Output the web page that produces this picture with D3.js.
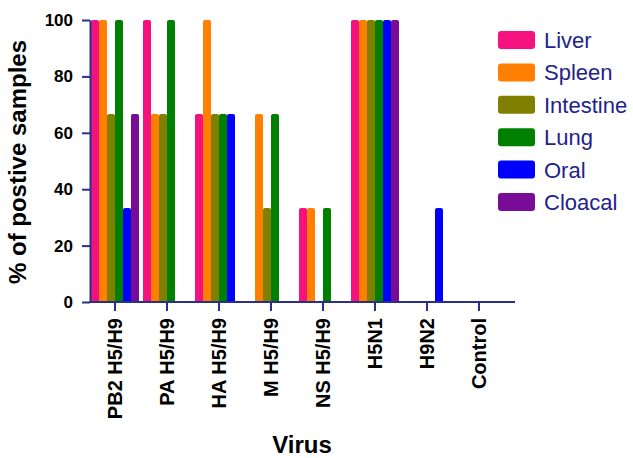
<!DOCTYPE html>
<html><head><meta charset="utf-8">
<script src="https://cdn.jsdelivr.net/npm/d3@7/dist/d3.min.js"></script>
<style>body{margin:0;background:#fff}svg{display:block}</style>
</head><body>
<svg id="c" width="633" height="458"></svg>
<script>
const categories = ["PB2 H5/H9","PA H5/H9","HA H5/H9","M H5/H9","NS H5/H9","H5N1","H9N2","Control"];
const seriesNames = ["Liver","Spleen","Intestine","Lung","Oral","Cloacal"];
const liver     = [100, 100, 66.7, 0, 33.3, 100, 0, 0];
const spleen    = [100, 66.7, 100, 66.7, 33.3, 100, 0, 0];
const intestine = [66.7, 66.7, 66.7, 33.3, 0, 100, 0, 0];
const lung      = [100, 100, 66.7, 66.7, 33.3, 100, 0, 0];
const oral      = [33.3, 0, 66.7, 0, 0, 100, 33.3, 0];
const cloacal   = [66.7, 0, 0, 0, 0, 100, 0, 0];
const yTicks = [0, 20, 40, 60, 80, 100];
const colors = ["#f5127f","#ff8000","#808000","#008000","#0000ff","#780c96"];

const seriesValues = [liver, spleen, intestine, lung, oral, cloacal];
const axisColor = "#2b2f8c";
const font = "'Liberation Sans', Arial, sans-serif";

const svg = d3.select("#c");
const x0 = d3.scaleBand().domain(categories).range([89, 505]).paddingInner(0.077).paddingOuter(0.0385);
const x1 = d3.scaleBand().domain(seriesNames).range([0, x0.bandwidth()]);
const y = d3.scaleLinear().domain([0, 100]).range([302, 20]);
const color = d3.scaleOrdinal().domain(seriesNames).range(colors);

// bars
const data = [];
categories.forEach((c, i) => seriesNames.forEach((s, j) => data.push({c, s, v: seriesValues[j][i]})));
function barPath(d) {
  const xl = x0(d.c) + x1(d.s), w = x1.bandwidth();
  const yt = y(d.v), yb = y(0), r = Math.min(2, (yb - yt) / 2);
  return `M${xl},${yb}V${yt + r}Q${xl},${yt} ${xl + r},${yt}H${xl + w - r}Q${xl + w},${yt} ${xl + w},${yt + r}V${yb}Z`;
}
svg.append("g").selectAll("path").data(data.filter(d => d.v > 0)).join("path")
  .attr("d", barPath).attr("fill", d => color(d.s));

// y axis
const yAxis = svg.append("g").attr("transform", "translate(90,0)")
  .call(d3.axisLeft(y).tickValues(yTicks).tickSize(8).tickSizeOuter(0).tickPadding(9));
yAxis.select(".domain").attr("stroke", axisColor).attr("stroke-width", 2);
yAxis.selectAll(".tick line").attr("stroke", axisColor).attr("stroke-width", 2);
yAxis.selectAll("text").attr("font-family", font).attr("font-weight", "bold").attr("font-size", 17).attr("fill", "#000");

// x axis
const xAxis = svg.append("g").attr("transform", "translate(0,302)")
  .call(d3.axisBottom(x0).tickSize(9).tickSizeOuter(0));
xAxis.select(".domain").remove();
xAxis.append("line").attr("x1", 89).attr("x2", 515).attr("y1", 0).attr("y2", 0)
  .attr("stroke", axisColor).attr("stroke-width", 2);
xAxis.selectAll(".tick line").attr("stroke", axisColor).attr("stroke-width", 2);
xAxis.selectAll("text")
  .attr("font-family", font).attr("font-weight", "bold").attr("font-size", 20).attr("fill", "#000")
  .attr("transform", "rotate(-90)").attr("text-anchor", "end")
  .attr("x", -16).attr("y", 0).attr("dy", "0.36em");

// axis titles
svg.append("text").attr("transform", "translate(26,162) rotate(-90)")
  .attr("text-anchor", "middle").attr("font-family", font).attr("font-weight", "bold")
  .attr("font-size", 24).attr("fill", "#000").text("% of postive samples");
svg.append("text").attr("x", 302).attr("y", 453)
  .attr("text-anchor", "middle").attr("font-family", font).attr("font-weight", "bold")
  .attr("font-size", 24).attr("fill", "#000").text("Virus");

// legend
const legend = svg.append("g").selectAll("g").data(seriesNames).join("g")
  .attr("transform", (d, i) => `translate(498,${40 + i * 32.4})`);
legend.append("rect").attr("x", 0).attr("y", -9).attr("width", 37).attr("height", 18)
  .attr("rx", 3).attr("fill", d => color(d));
legend.append("text").attr("x", 46).attr("y", 0).attr("dy", "0.36em")
  .attr("font-family", font).attr("font-size", 22).attr("fill", "#22228a").text(d => d);
</script>
</body></html>
